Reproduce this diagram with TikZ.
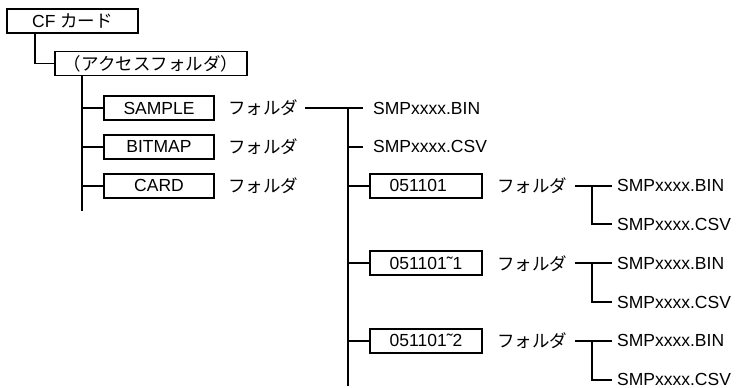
\documentclass[tikz,border=0pt]{standalone}
\usepackage{fontspec}
\setmainfont{Liberation Sans}
\newfontfamily\jp{Noto Sans CJK JP}
\newcommand{\fsz}{\fontsize{17.5}{20}\selectfont}
\begin{document}
\begin{tikzpicture}[x=1pt,y=-1pt,
  wire/.style={line width=1.9pt},
  fbox/.style={draw, line width=1.9pt, minimum height=24pt, inner sep=0pt, font=\fsz},
  lbl/.style={anchor=west, inner sep=0pt, font=\fsz},
  jlbl/.style={anchor=west, inner sep=0pt, font=\fsz\jp},
]
\useasboundingbox (0,0) rectangle (739,388);

% row positions
\def\ra{108}\def\rb{146.8}\def\rc{185.6}\def\rd{224.4}
\def\re{263.2}\def\rf{302}\def\rg{340.8}\def\rh{379.6}

% root and access folder
\node[fbox, minimum width=131pt] (cf) at (72.5,21) {CF {\jp カード}};
\node[fbox, minimum width=192pt, font=\fsz\jp] (acc) at (151,63.5) {（アクセスフォルダ）};
\coordinate (cfx) at (35,0);
\draw[wire] (cf.south -| cfx) |- (acc.west);

% first level folders
\node[fbox, minimum width=110pt] (sample) at (159,\ra) {SAMPLE};
\node[fbox, minimum width=110pt] (bitmap) at (159,\rb) {BITMAP};
\node[fbox, minimum width=110pt] (card)   at (159,\rc) {CARD};
\node[jlbl] (fsample) at (228,\ra) {フォルダ};
\node[jlbl] (fbitmap) at (228,\rb) {フォルダ};
\node[jlbl] (fcard)   at (228,\rc) {フォルダ};

\coordinate (accbot) at (82,211);
\draw[wire] (acc.south -| accbot) -- (accbot);
\foreach \n in {sample,bitmap,card}
  \draw[wire] (\n.west) -- (\n.west -| accbot);

% contents of SAMPLE
\node[lbl] (bin0) at (373,\ra) {SMPxxxx.BIN};
\node[lbl] (csv0) at (373,\rb) {SMPxxxx.CSV};
\node[fbox, minimum width=112pt] (d1) at (426,\rc) {051101\hphantom{˜1}};
\node[fbox, minimum width=112pt] (d2) at (426,\re) {051101˜1};
\node[fbox, minimum width=112pt] (d3) at (426,\rg) {051101˜2};
\node[jlbl] (fd1) at (497,\rc) {フォルダ};
\node[jlbl] (fd2) at (497,\re) {フォルダ};
\node[jlbl] (fd3) at (497,\rg) {フォルダ};

\coordinate (sbot) at (348,386);
\draw[wire] ([xshift=7pt]fsample.east) -- ([xshift=-10pt]bin0.west);
\draw[wire] (sbot |- fsample) -- (sbot);
\draw[wire] (sbot |- csv0) -- ([xshift=-10pt]csv0.west);
\foreach \n in {d1,d2,d3}
  \draw[wire] (sbot |- \n) -- (\n.west);

% files inside the dated folders
\node[lbl] (bin1) at (617,\rc) {SMPxxxx.BIN};
\node[lbl] (csv1) at (617,\rd) {SMPxxxx.CSV};
\node[lbl] (bin2) at (617,\re) {SMPxxxx.BIN};
\node[lbl] (csv2) at (617,\rf) {SMPxxxx.CSV};
\node[lbl] (bin3) at (617,\rg) {SMPxxxx.BIN};
\node[lbl] (csv3) at (617,\rh) {SMPxxxx.CSV};

\coordinate (tx) at (592,0);
\foreach \f/\b/\c in {fd1/bin1/csv1,fd2/bin2/csv2,fd3/bin3/csv3}{
  \draw[wire] ([xshift=8pt]\f.east) -- ([xshift=-5pt]\b.west);
  \draw[wire] (tx |- \b) |- ([xshift=-5pt]\c.west);
}
\end{tikzpicture}
\end{document}
